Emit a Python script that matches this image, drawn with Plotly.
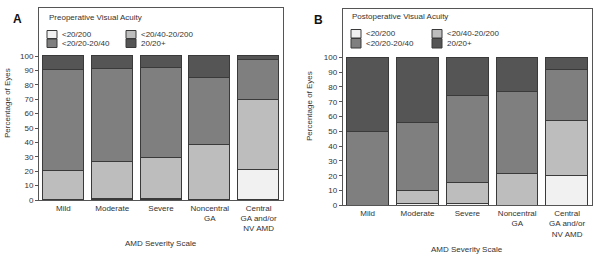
import plotly.graph_objects as go

W, H = 600, 260

categories = ["Mild", "Moderate", "Severe", "Noncentral<br>GA", "Central<br>GA and/or<br>NV AMD"]
series_names = ["<20/200", "<20/40-20/200", "<20/20-20/40", "20/20+"]

# Panel A: preoperative (stacked segment heights, %)
pre_vlow = [0, 0.5, 1, 0, 20.5]
pre_low = [20, 26, 28, 38, 49]
pre_mid = [70, 64.5, 63, 47, 28]
pre_high = [10, 9, 8, 15, 2.5]

# Panel B: postoperative
post_vlow = [0, 1, 1, 0, 20]
post_low = [0, 9, 14.5, 21.5, 37]
post_mid = [50, 46, 58.5, 55, 34.5]
post_high = [50, 44, 26, 23.5, 8.5]

y_ticks = [0, 10, 20, 30, 40, 50, 60, 70, 80, 90, 100]

colors = ["#f1f1f1", "#bdbdbd", "#7f7f7f", "#555555"]
edge = "#3a3a3a"
txt = "#333333"
FONT = "Liberation Sans, Arial, sans-serif"


def px(x):
    return x / W


def py(y):
    return 1 - y / H


fig = go.Figure()

panels = [
    dict(vals=[pre_vlow, pre_low, pre_mid, pre_high], xa="x", ya="y",
         dom_x=(39, 283), dom_y=(8, 200), y100=56),
    dict(vals=[post_vlow, post_low, post_mid, post_high], xa="x2", ya="y2",
         dom_x=(342.7, 592), dom_y=(8.7, 205.3), y100=57.3),
]

for p in panels:
    for name, v, c in zip(series_names, p["vals"], colors):
        fig.add_trace(go.Bar(
            x=list(range(len(categories))), y=v, name=name,
            marker=dict(color=c, line=dict(color=edge, width=1)),
            width=0.84, xaxis=p["xa"], yaxis=p["ya"], showlegend=False,
            hoverinfo="skip",
        ))

ax_common = dict(showline=True, linecolor="#555555", linewidth=1, mirror=True,
                 showgrid=False, zeroline=False, automargin=False,
                 tickfont=dict(family=FONT, size=8, color=txt))

layout = dict(
    width=W, height=H, margin=dict(l=0, r=0, t=0, b=0, autoexpand=False),
    paper_bgcolor="white", plot_bgcolor="white", barmode="stack",
    font=dict(family=FONT, size=8, color=txt), bargap=0,
)
for i, p in enumerate(panels):
    sx = "" if i == 0 else "2"
    layout["xaxis" + sx] = dict(
        ax_common, domain=[px(p["dom_x"][0]), px(p["dom_x"][1])],
        range=[-0.5, 4.5], tickvals=list(range(len(categories))), ticktext=categories,
        ticks="", anchor="y" + sx,
    )
    top_val = (p["dom_y"][1] - p["dom_y"][0]) / ((p["dom_y"][1] - p["y100"]) / 100)
    layout["yaxis" + sx] = dict(
        ax_common, domain=[py(p["dom_y"][1]), py(p["dom_y"][0])],
        range=[0, top_val], tickvals=y_ticks, ticks="outside", ticklen=3,
        tickcolor="#555555", anchor="x" + sx,
    )
fig.update_layout(**layout)

ann = []
shapes = []


def text(x, y, s, size=8, xanchor="left", bold=False, angle=0, color=txt):
    ann.append(dict(x=px(x), y=py(y), xref="paper", yref="paper", text=("<b>%s</b>" % s) if bold else s,
                    showarrow=False, xanchor=xanchor, yanchor="middle", textangle=angle,
                    font=dict(family=FONT, size=size, color=color)))


# Panel letters
text(17, 19, "A", size=12, xanchor="center", bold=True, color="#111111")
text(318, 20, "B", size=12, xanchor="center", bold=True, color="#111111")

# Y-axis titles
text(8, 103, "Percentage of Eyes", angle=-90, xanchor="center")
text(309, 106, "Percentage of Eyes", angle=-90, xanchor="center")

# X-axis titles
text(161, 243, "AMD Severity Scale", xanchor="center")
text(467, 249, "AMD Severity Scale", xanchor="center")

# Legends
legends = [
    dict(title="Preoperative Visual Acuity", tx=47, ty=17.5,
         cols=[(47, 60), (126, 139)], rows=[(30.5, 38.5), (39, 47.5)]),
    dict(title="Postoperative Visual Acuity", tx=350, ty=17,
         cols=[(351, 364), (432, 445)], rows=[(29.5, 38), (38.5, 48)]),
]
order = [(0, 0), (0, 1), (1, 0), (1, 1)]  # (row, col) for each series
for lg in legends:
    text(lg["tx"], lg["ty"], lg["title"])
    for k, (r, c) in enumerate(order):
        x0, xt = lg["cols"][c]
        y0, y1 = lg["rows"][r]
        shapes.append(dict(type="rect", xref="paper", yref="paper",
                           x0=px(x0), x1=px(x0 + 10), y0=py(y1), y1=py(y0),
                           fillcolor=colors[k], line=dict(color=edge, width=1)))
        text(xt, (y0 + y1) / 2, series_names[k].replace("<", "&lt;"))

fig.update_layout(annotations=ann, shapes=shapes)
fig.write_html("out.html", config={"displayModeBar": False},
               post_script="document.body.style.margin='0';document.body.style.overflow='hidden';")
